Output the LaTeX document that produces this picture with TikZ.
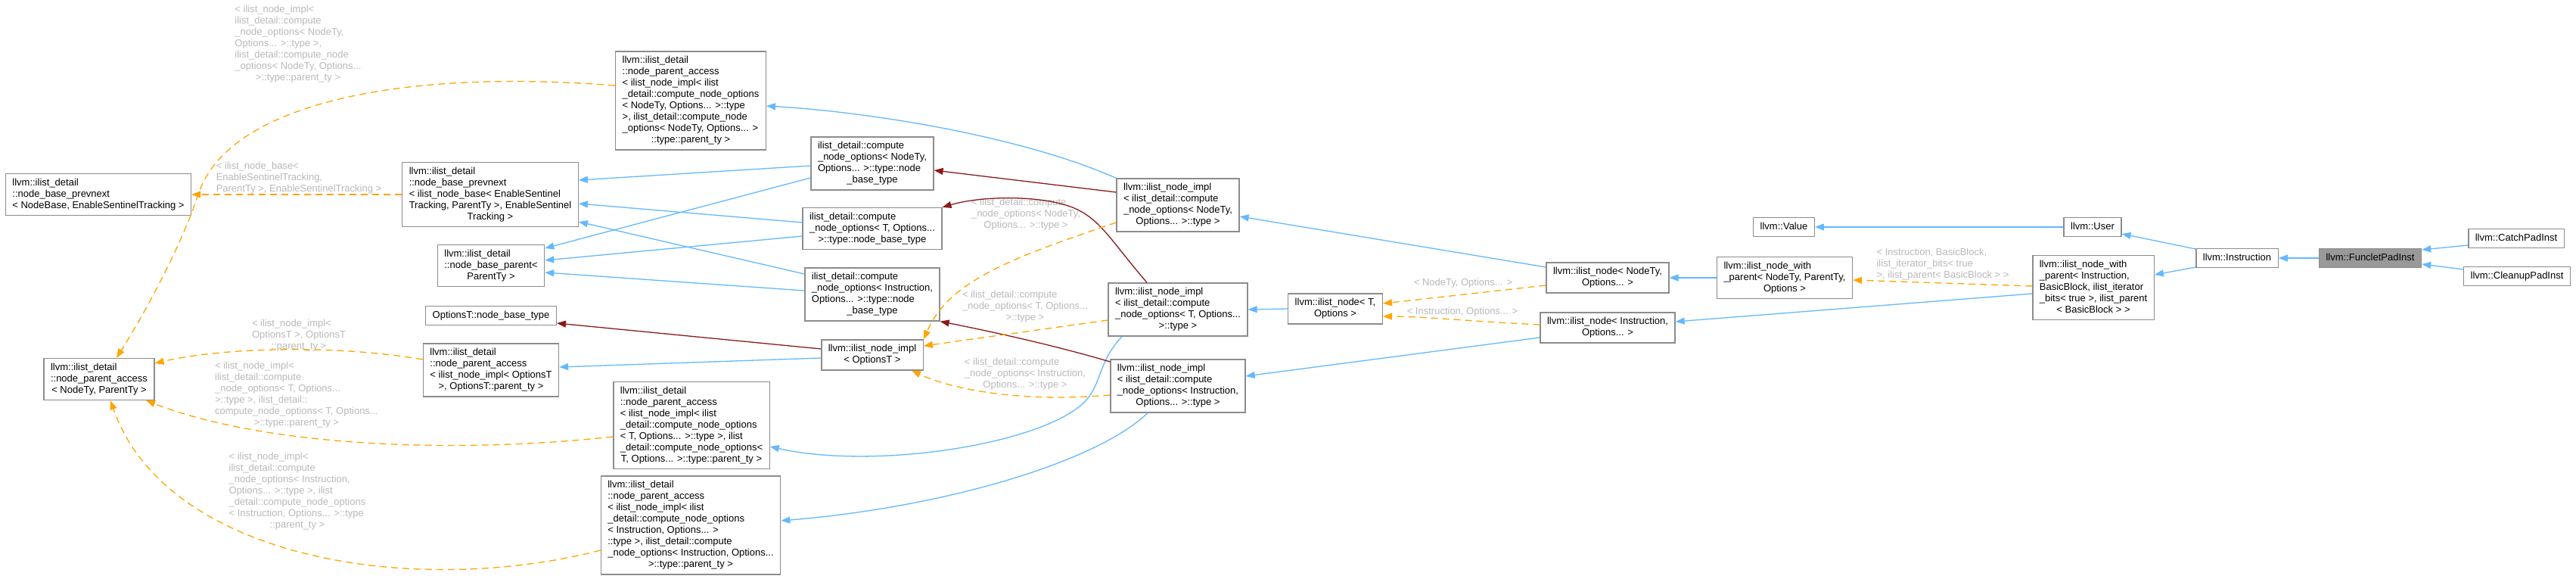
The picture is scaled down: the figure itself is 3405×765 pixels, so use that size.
\documentclass[tikz,border=0pt]{standalone}
\usepackage{fontspec}
\setmainfont{Liberation Sans}
\usetikzlibrary{arrows.meta}
\definecolor{edgeblue}{HTML}{63B8FF}
\definecolor{edgered}{HTML}{8B1A1A}
\definecolor{edgeorange}{HTML}{FFA500}
\definecolor{boxgray}{HTML}{8C8C8C}
\definecolor{lblgray}{HTML}{B8B8B8}
\definecolor{curfill}{HTML}{999999}
\newcommand{\mlines}[1]{\begin{tabular}{@{}l@{}}#1\end{tabular}}
\newcommand{\lastc}[1]{\multicolumn{1}{@{}c@{}}{#1}}
\tikzset{
  box/.style={draw=boxgray, line width=1.3pt, fill=white, inner xsep=9pt, inner ysep=5pt, font=\fontsize{13pt}{15pt}\selectfont},
  lbl/.style={text=lblgray, inner sep=0pt, font=\fontsize{13pt}{15pt}\selectfont},
  pub/.style={draw=edgeblue, line width=1.3pt, -{Triangle[length=12pt,width=9pt]}},
  prot/.style={draw=edgered, line width=1.3pt, -{Triangle[length=12pt,width=9pt]}},
  tmpl/.style={draw=edgeorange, line width=1.3pt, dash pattern=on 9pt off 6pt, -{Triangle[length=12pt,width=9pt]}}
}
\begin{document}
\begin{tikzpicture}[x=1pt,y=-1pt]
\useasboundingbox (0,0) rectangle (3405,765);

% ---------- nodes ----------
\node[box] (cleanup) at (3327,365) {\mlines{llvm::CleanupPadInst}};
\node[box] (catch) at (3326,315) {\mlines{llvm::CatchPadInst}};
\node[box, fill=curfill] (funclet) at (3133,341) {\mlines{llvm::FuncletPadInst}};
\node[box] (instr) at (2957,341) {\mlines{llvm::Instruction}};
\node[box] (user) at (2766,300) {\mlines{llvm::User}};
\node[box] (value) at (2358,300) {\mlines{llvm::Value}};
\node[box] (inwpI) at (2767,380) {\mlines{llvm::ilist\_node\_with\\ \_parent< Instruction,\\ BasicBlock, ilist\_iterator\\ \_bits< true >, ilist\_parent\\ \lastc{< BasicBlock > >}}};
\node[box] (inwpN) at (2359,367) {\mlines{llvm::ilist\_node\_with\\ \_parent< NodeTy, ParentTy,\\ \lastc{Options >}}};
\node[box] (inN) at (2125,367) {\mlines{llvm::ilist\_node< NodeTy,\\ \lastc{Options... >}}};
\node[box] (inI) at (2125,433) {\mlines{llvm::ilist\_node< Instruction,\\ \lastc{Options... >}}};
\node[box] (inT) at (1765,408) {\mlines{llvm::ilist\_node< T,\\ \lastc{Options >}}};
\node[box] (implN) at (1557,271) {\mlines{llvm::ilist\_node\_impl\\ < ilist\_detail::compute\\ \_node\_options< NodeTy,\\ \lastc{Options... >::type >}}};
\node[box] (implT) at (1557,409) {\mlines{llvm::ilist\_node\_impl\\ < ilist\_detail::compute\\ \_node\_options< T, Options...\\ \lastc{>::type >}}};
\node[box] (implI) at (1557,510) {\mlines{llvm::ilist\_node\_impl\\ < ilist\_detail::compute\\ \_node\_options< Instruction,\\ \lastc{Options... >::type >}}};
\node[box] (implO) at (1153,469) {\mlines{llvm::ilist\_node\_impl\\ \lastc{< OptionsT >}}};
\node[box] (cnoN) at (1153,216) {\mlines{ilist\_detail::compute\\ \_node\_options< NodeTy,\\ Options... >::type::node\\ \lastc{\_base\_type}}};
\node[box] (cnoT) at (1153,302) {\mlines{ilist\_detail::compute\\ \_node\_options< T, Options...\\ \lastc{>::type::node\_base\_type}}};
\node[box] (cnoI) at (1153,389) {\mlines{ilist\_detail::compute\\ \_node\_options< Instruction,\\ Options... >::type::node\\ \lastc{\_base\_type}}};
\node[box] (npaN) at (913,133) {\mlines{llvm::ilist\_detail\\ ::node\_parent\_access\\ < ilist\_node\_impl< ilist\\ \_detail::compute\_node\_options\\ < NodeTy, Options... >::type\\ >, ilist\_detail::compute\_node\\ \_options< NodeTy, Options... >\\ \lastc{::type::parent\_ty >}}};
\node[box] (prevM) at (648,257) {\mlines{llvm::ilist\_detail\\ ::node\_base\_prevnext\\ < ilist\_node\_base< EnableSentinel\\ Tracking, ParentTy >, EnableSentinel\\ \lastc{Tracking >}}};
\node[box] (nbp) at (649,351) {\mlines{llvm::ilist\_detail\\ ::node\_base\_parent<\\ \lastc{ParentTy >}}};
\node[box] (optnbt) at (649,417) {\mlines{OptionsT::node\_base\_type}};
\node[box] (npaO) at (649,489) {\mlines{llvm::ilist\_detail\\ ::node\_parent\_access\\ < ilist\_node\_impl< OptionsT\\ \lastc{>, OptionsT::parent\_ty >}}};
\node[box] (npaT) at (914,562) {\mlines{llvm::ilist\_detail\\ ::node\_parent\_access\\ < ilist\_node\_impl< ilist\\ \_detail::compute\_node\_options\\ < T, Options... >::type >, ilist\\ \_detail::compute\_node\_options<\\ \lastc{T, Options... >::type::parent\_ty >}}};
\node[box] (npaI) at (913,694) {\mlines{llvm::ilist\_detail\\ ::node\_parent\_access\\ < ilist\_node\_impl< ilist\\ \_detail::compute\_node\_options\\ < Instruction, Options... >\\ ::type >, ilist\_detail::compute\\ \_node\_options< Instruction, Options...\\ \lastc{>::type::parent\_ty >}}};
\node[box] (prevL) at (130,257) {\mlines{llvm::ilist\_detail\\ ::node\_base\_prevnext\\ < NodeBase, EnableSentinelTracking >}};
\node[box] (npaL) at (131,501) {\mlines{llvm::ilist\_detail\\ ::node\_parent\_access\\ \lastc{< NodeTy, ParentTy >}}};

% ---------- labels ----------
\node[lbl] (L1) at (394,59) {\mlines{< ilist\_node\_impl<\\ ilist\_detail::compute\\ \_node\_options< NodeTy,\\ Options... >::type >,\\ ilist\_detail::compute\_node\\ \_options< NodeTy, Options...\\ \lastc{>::type::parent\_ty >}}};
\node[lbl] (L2) at (395,235) {\mlines{< ilist\_node\_base<\\ EnableSentinelTracking,\\ \lastc{ParentTy >, EnableSentinelTracking >}}};
\node[lbl] (L3) at (395,443) {\mlines{< ilist\_node\_impl<\\ OptionsT >, OptionsT\\ \lastc{::parent\_ty >}}};
\node[lbl] (L4) at (392,522) {\mlines{< ilist\_node\_impl<\\ ilist\_detail::compute\\ \_node\_options< T, Options...\\ >::type >, ilist\_detail::\\ compute\_node\_options< T, Options...\\ \lastc{>::type::parent\_ty >}}};
\node[lbl] (L5) at (393,649) {\mlines{< ilist\_node\_impl<\\ ilist\_detail::compute\\ \_node\_options< Instruction,\\ Options... >::type >, ilist\\ \_detail::compute\_node\_options\\ < Instruction, Options... >::type\\ \lastc{::parent\_ty >}}};
\node[lbl] (L6) at (1356,283) {\mlines{< ilist\_detail::compute\\ \_node\_options< NodeTy,\\ \lastc{Options... >::type >}}};
\node[lbl] (L7) at (1355,405) {\mlines{< ilist\_detail::compute\\ \_node\_options< T, Options...\\ \lastc{>::type >}}};
\node[lbl] (L8) at (1355,494) {\mlines{< ilist\_detail::compute\\ \_node\_options< Instruction,\\ \lastc{Options... >::type >}}};
\node[lbl] (L9) at (1934,374) {\mlines{< NodeTy, Options... >}};
\node[lbl] (L10) at (1933,412) {\mlines{< Instruction, Options... >}};
\node[lbl] (L11) at (2568,349) {\mlines{< Instruction, BasicBlock,\\ ilist\_iterator\_bits< true\\ >, ilist\_parent< BasicBlock > >}};

% ---------- public inheritance (blue) ----------
\draw[pub] (catch.west |- 0,324) -- (funclet.east |- 0,330);
\draw[pub] (cleanup.west |- 0,356) -- (funclet.east |- 0,349);
\draw[pub] (funclet.west) -- (instr.east);
\draw[pub] (instr.west |- 0,329) -- (user.east |- 0,309);
\draw[pub] (instr.west |- 0,353) -- (inwpI.east |- 0,363);
\draw[pub] (user.west) -- (value.east);
\draw[pub] (inwpI.west |- 0,388) -- (inI.east |- 0,425);
\draw[pub] (inwpN.west) -- (inN.east);
\draw[pub] (inN.west |- 0,353) -- (implN.east |- 0,286);
\draw[pub] (inT.west) -- (implT.east);
\draw[pub] (inI.west |- 0,446) -- (implI.east |- 0,497);
\draw[pub] (cnoN.west |- 0,219) -- (prevM.east |- 0,238);
\draw[pub] (cnoN.west |- 0,235) -- (nbp.east |- 0,328);
\draw[pub] (cnoT.west |- 0,294) -- (prevM.east |- 0,269);
\draw[pub] (cnoT.west |- 0,312) -- (nbp.east |- 0,344);
\draw[pub] (cnoI.west |- 0,362) -- (prevM.east |- 0,293);
\draw[pub] (cnoI.west |- 0,384) -- (nbp.east |- 0,360);
\draw[pub] (implN.north west) .. controls (1350,180) and (1150,148) .. (npaN.east |- 0,140);
\draw[pub] (implO.west |- 0,473) -- (npaO.east |- 0,485);
\draw[pub] (implT.south -| 1483,0) .. controls (1448,482) and (1458,512) .. (1427,537) .. controls (1360,590) and (1150,620) .. (npaT.east |- 0,590);
\draw[pub] (implI.south -| 1517,0) .. controls (1450,610) and (1250,670) .. (npaI.east |- 0,688);

% ---------- protected inheritance (dark red) ----------
\draw[prot] (implN.west |- 0,254) -- (cnoN.east |- 0,225);
\draw[prot] (implT.north -| 1516,0) .. controls (1470,320) and (1455,290) .. (1420,275) .. controls (1380,258) and (1300,258) .. (cnoT.north east);
\draw[prot] (implI.west |- 0,478) .. controls (1400,458) and (1320,440) .. (cnoI.south east);
\draw[prot] (implO.west |- 0,461) -- (optnbt.east |- 0,427);

% ---------- template instances (orange dashed) ----------
\draw[tmpl] (inwpI.west |- 0,378) -- (inwpN.east |- 0,370);
\draw[tmpl] (inN.west |- 0,377) -- (inT.east |- 0,401);
\draw[tmpl] (inI.west |- 0,429) .. controls (1950,425) and (1880,418) .. (inT.east |- 0,418);
\draw[tmpl] (implN.west |- 0,294) .. controls (1340,340) and (1255,370) .. (implO.north east);
\draw[tmpl] (implT.west |- 0,423) -- (implO.east |- 0,457);
\draw[tmpl] (implI.west |- 0,522) .. controls (1350,532) and (1260,515) .. (implO.south -| 1205,0);
\draw[tmpl] (prevM.west) -- (prevL.east);
\draw[tmpl] (npaN.west |- 0,113) .. controls (520,90) and (300,140) .. (262,257) .. controls (243,315) and (200,400) .. (npaL.north -| 154,0);
\draw[tmpl] (npaO.west |- 0,475) .. controls (450,456) and (300,458) .. (npaL.east |- 0,480);
\draw[tmpl] (npaT.west |- 0,577) .. controls (600,600) and (350,590) .. (npaL.south -| 193,0);
\draw[tmpl] (npaI.west |- 0,727) .. controls (550,790) and (220,740) .. (npaL.south -| 146,0);
\end{tikzpicture}
\end{document}
